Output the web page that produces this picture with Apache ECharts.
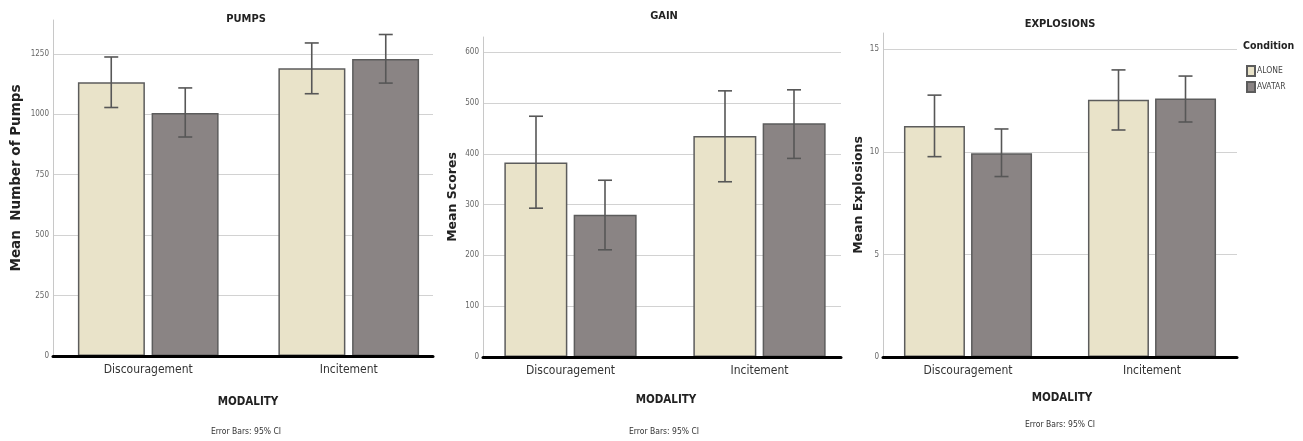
<!DOCTYPE html>
<html><head><meta charset="utf-8">
<script src="https://cdn.jsdelivr.net/npm/echarts@6/dist/echarts.min.js"></script>
<style>html,body{margin:0;padding:0;background:#fff}#c{width:1303px;height:441px}</style>
</head><body><div id="c"></div>
<script>
// ---- data ----
const categories = ['Discouragement', 'Incitement'];
const conditionNames = ['ALONE', 'AVATAR'];
const panelTitles = ['PUMPS', 'GAIN', 'EXPLOSIONS'];
const yAxisNames = ['Mean  Number of Pumps', 'Mean Scores', 'Mean Explosions'];
const xAxisTitle = 'MODALITY';
const noteText = 'Error Bars: 95% CI';

const pumpsAlone = [1132, 1190];
const pumpsAvatar = [1005, 1229];
const pumpsAloneCI = [[1028, 1237], [1085, 1295]];
const pumpsAvatarCI = [[906, 1109], [1129, 1330]];

const gainAlone = [383, 435];
const gainAvatar = [280, 460];
const gainAloneCI = [[293, 474], [345, 524]];
const gainAvatarCI = [[211, 348], [391, 526]];

const explAlone = [11.27, 12.54];
const explAvatar = [9.94, 12.6];
const explAloneCI = [[9.77, 12.77], [11.07, 14.0]];
const explAvatarCI = [[8.80, 11.12], [11.46, 13.7]];

const yTickStep = [250, 100, 5];
const yMax = [1390, 630, 15.8];

// ---- layout / style ----
const NARROW = "'DejaVu Sans Condensed', 'Liberation Sans Narrow', 'Liberation Sans', sans-serif";
const WIDE = "'DejaVu Sans', 'Liberation Sans', sans-serif";
const COL_ALONE = '#e9e3c9';
const COL_AVATAR = '#8a8484';
const EDGE = '#5c5c5c';
const ERR = '#575757';

const panels = [
  {left: 53, width: 380, barLeft: 48, barWidthPx: 401, top: 20, height: 336, barW: 67, gap: 7,
   nameGap: 30, nameSize: 13.5, namePad: [0, 0, 0, 20], cx: 246,
   alone: pumpsAlone, avatar: pumpsAvatar, aloneCI: pumpsAloneCI, avatarCI: pumpsAvatarCI,
   titleY: 19, modY: 402, noteY: 432},
  {left: 483, width: 358, barLeft: 476, barWidthPx: 378, top: 37, height: 320, barW: 63, gap: 6,
   nameGap: 24, nameSize: 12.5, namePad: 0, cx: 664,
   alone: gainAlone, avatar: gainAvatar, aloneCI: gainAloneCI, avatarCI: gainAvatarCI,
   titleY: 16, modY: 400, noteY: 432},
  {left: 883, width: 354, barLeft: 876, barWidthPx: 368, top: 33, height: 324, barW: 61, gap: 6,
   nameGap: 18, nameSize: 12.5, namePad: 0, cx: 1060,
   alone: explAlone, avatar: explAvatar, aloneCI: explAloneCI, avatarCI: explAvatarCI,
   titleY: 24, modY: 398, noteY: 425}
];

function errRender(sign, barW, gap) {
  return function (params, api) {
    const ci = api.value(0);
    const x = api.coord([ci, 0])[0] + sign * (barW + gap) / 2;
    const lo = api.coord([ci, api.value(1)])[1];
    const hi = api.coord([ci, api.value(2)])[1];
    const cap = 7;
    const st = {stroke: ERR, lineWidth: 1.6};
    return {type: 'group', children: [
      {type: 'line', shape: {x1: x, y1: lo, x2: x, y2: hi}, style: st},
      {type: 'line', shape: {x1: x - cap, y1: hi, x2: x + cap, y2: hi}, style: st},
      {type: 'line', shape: {x1: x - cap, y1: lo, x2: x + cap, y2: lo}, style: st}
    ]};
  };
}

const grids = [], xAxes = [], yAxes = [], series = [], graphics = [];
panels.forEach((p, i) => {
  const gv = i * 2, gb = i * 2 + 1;
  const step = yTickStep[i];
  grids.push({left: p.left, width: p.width, top: p.top, height: p.height, containLabel: false});
  grids.push({left: p.barLeft, width: p.barWidthPx, top: p.top, height: p.height, containLabel: false});

  xAxes.push({
    type: 'category', gridIndex: gv, data: categories,
    axisLine: {show: true, lineStyle: {color: '#000', width: 3}},
    axisTick: {show: false}, axisLabel: {show: false}, z: 10
  });
  xAxes.push({
    type: 'category', gridIndex: gb, data: categories,
    axisLine: {show: false}, axisTick: {show: false},
    axisLabel: {fontFamily: NARROW, fontSize: 12, color: '#333', margin: 8}
  });
  yAxes.push({
    type: 'value', gridIndex: gv, min: 0, max: yMax[i], interval: step,
    name: yAxisNames[i], nameLocation: 'middle', nameGap: p.nameGap,
    nameTextStyle: {fontFamily: WIDE, fontWeight: 'bold', fontSize: p.nameSize, color: '#222', padding: p.namePad},
    axisLine: {show: true, lineStyle: {color: '#c8c8c8', width: 1}},
    axisTick: {show: false},
    axisLabel: {fontFamily: NARROW, fontSize: 8, color: '#666', margin: 4,
      formatter: v => (Math.abs(v / step - Math.round(v / step)) < 1e-6 ? String(v) : '')},
    splitLine: {show: true, showMaxLine: false, lineStyle: {color: '#d2d2d2', width: 1}}
  });
  yAxes.push({
    type: 'value', gridIndex: gb, min: 0, max: yMax[i], interval: step,
    axisLine: {show: false}, axisTick: {show: false}, axisLabel: {show: false}, splitLine: {show: false}
  });

  const gapPct = Math.round(p.gap / p.barW * 100) + '%';
  series.push({
    type: 'bar', name: conditionNames[0], xAxisIndex: gb, yAxisIndex: gb, data: p.alone,
    barWidth: p.barW, barGap: gapPct,
    itemStyle: {color: COL_ALONE, borderColor: EDGE, borderWidth: 1.5}, z: 2
  });
  series.push({
    type: 'bar', name: conditionNames[1], xAxisIndex: gb, yAxisIndex: gb, data: p.avatar,
    barWidth: p.barW, barGap: gapPct,
    itemStyle: {color: COL_AVATAR, borderColor: EDGE, borderWidth: 1.5}, z: 2
  });
  series.push({
    type: 'custom', xAxisIndex: gb, yAxisIndex: gb, z: 5,
    renderItem: errRender(-1, p.barW, p.gap),
    data: p.aloneCI.map((c, k) => [k, c[0], c[1]]), encode: {x: 0, y: [1, 2]}
  });
  series.push({
    type: 'custom', xAxisIndex: gb, yAxisIndex: gb, z: 5,
    renderItem: errRender(1, p.barW, p.gap),
    data: p.avatarCI.map((c, k) => [k, c[0], c[1]]), encode: {x: 0, y: [1, 2]}
  });
  graphics.push({type: 'text', x: p.cx, y: p.titleY, style: {text: panelTitles[i],
    fontFamily: NARROW, fontWeight: 'bold', fontSize: 11, fill: '#222', textAlign: 'center', textVerticalAlign: 'middle'}});
  graphics.push({type: 'text', x: p.cx + 2, y: p.modY, style: {text: xAxisTitle,
    fontFamily: NARROW, fontWeight: 'bold', fontSize: 11.5, fill: '#222', textAlign: 'center', textVerticalAlign: 'middle'}});
  graphics.push({type: 'text', x: p.cx, y: p.noteY, style: {text: noteText,
    fontFamily: NARROW, fontSize: 8.5, fill: '#333', textAlign: 'center', textVerticalAlign: 'middle'}});
});

graphics.push({type: 'text', x: 1243, y: 46, style: {text: 'Condition',
  fontFamily: NARROW, fontWeight: 'bold', fontSize: 10.5, fill: '#222', textAlign: 'left', textVerticalAlign: 'middle'}});

const chart = echarts.init(document.getElementById('c'), null, {renderer: 'canvas'});
chart.setOption({
  backgroundColor: '#fff',
  animation: false,
  grid: grids, xAxis: xAxes, yAxis: yAxes, series: series,
  legend: {
    data: conditionNames.map(n => ({name: n, icon: 'rect'})), orient: 'vertical', left: 1241, top: 60,
    itemWidth: 8, itemHeight: 10, itemGap: 4,
    textStyle: {fontFamily: NARROW, fontSize: 8.5, color: '#444', padding: [0, 0, 0, -3]},
    selectedMode: false
  },
  graphic: graphics
});
</script>
</body></html>
